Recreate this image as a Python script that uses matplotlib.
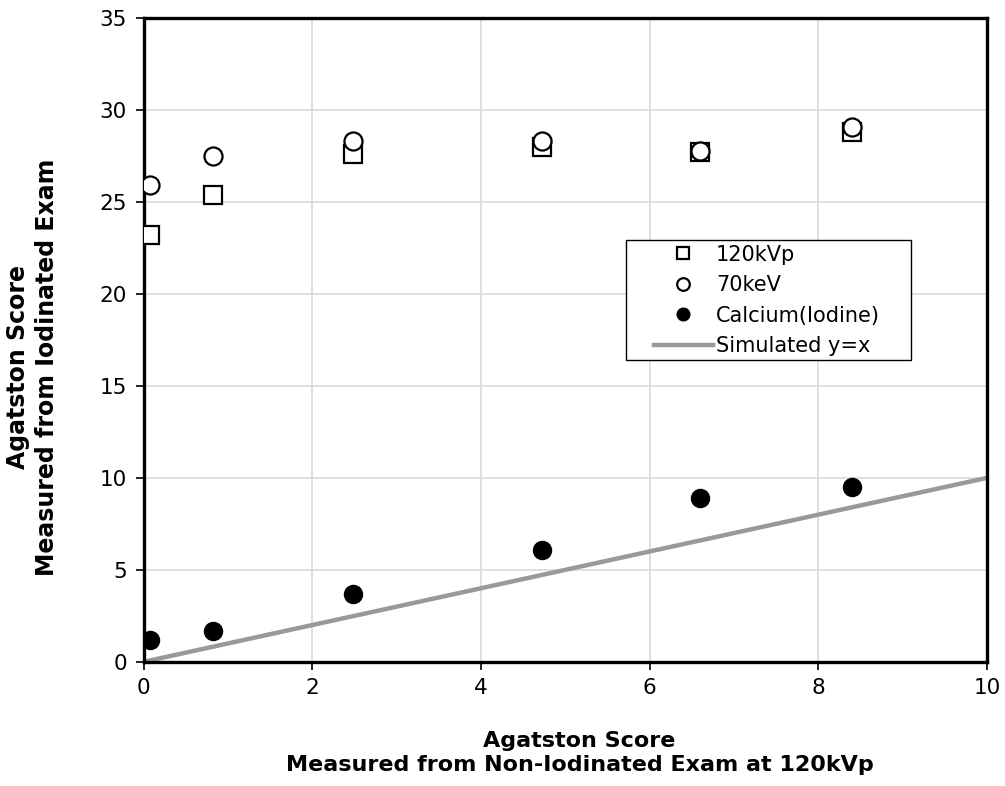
import matplotlib
matplotlib.use("Agg")
from matplotlib import pyplot as plt
from matplotlib.patches import Rectangle

plt.rcParams['font.family'] = ['DejaVu Sans']

# scores measured on the non-iodinated exam (x) and on the iodinated exam (y)
x_scores = [0.08, 0.82, 2.48, 4.72, 6.60, 8.40]
kvp120 = [23.2, 25.4, 27.6, 28.0, 27.7, 28.8]
kev70 = [25.9, 27.5, 28.3, 28.3, 27.8, 29.1]
calcium_iodine = [1.2, 1.7, 3.7, 6.1, 8.9, 9.5]
identity_x = [0, 10]

fig = plt.figure(figsize=(10.05, 7.86), dpi=100)
ax = fig.add_axes([0.143, 0.158, 0.839, 0.819])

ax.plot(identity_x, identity_x, color='#999999', lw=3.2, label='Simulated y=x', zorder=2)
ax.plot(x_scores, kvp120, ls='none', marker='s', ms=13, mfc='white', mec='black', mew=1.6,
        label='120kVp', zorder=3)
ax.plot(x_scores, kev70, ls='none', marker='o', ms=13, mfc='white', mec='black', mew=1.6,
        label='70keV', zorder=4)
ax.plot(x_scores, calcium_iodine, ls='none', marker='o', ms=13, mfc='black', mec='black',
        label='Calcium(Iodine)', zorder=4)

ax.set_xlim(0, 10)
ax.set_ylim(0, 35)
ax.set_xticks(range(0, 11, 2))
ax.set_yticks(range(0, 36, 5))
ax.grid(True, color='#d9d9d9', lw=1.2)
ax.set_axisbelow(True)
for s in ax.spines.values():
    s.set_linewidth(2.4)
ax.tick_params(direction='out', length=6, width=1.2, labelsize=15.5, pad=6)

ax.set_xlabel('Agatston Score\nMeasured from Non-Iodinated Exam at 120kVp',
              fontsize=16, fontweight='bold', linespacing=1.2)
ax.set_ylabel('Agatston Score\nMeasured from Iodinated Exam',
              fontsize=17, fontweight='bold', linespacing=1.28)
ax.xaxis.set_label_coords(0.517, -0.108)
ax.yaxis.set_label_coords(-0.1, 0.458)

# legend box drawn separately so the padding can be wider than tall
ax.add_patch(Rectangle((0.572, 0.469), 0.338, 0.186, transform=ax.transAxes,
                       facecolor='white', edgecolor='black', lw=1.0, zorder=5))

handles, labels = ax.get_legend_handles_labels()
order = [1, 2, 3, 0]
leg = ax.legend([handles[i] for i in order], [labels[i] for i in order],
                loc='upper left', bbox_to_anchor=(0.605, 0.648), fontsize=15,
                markerscale=0.7, frameon=False, borderpad=0, labelspacing=0.5,
                handlelength=2.84, handletextpad=0.15, borderaxespad=0)
leg.set_zorder(6)

fig.savefig('out.png', dpi=100)
